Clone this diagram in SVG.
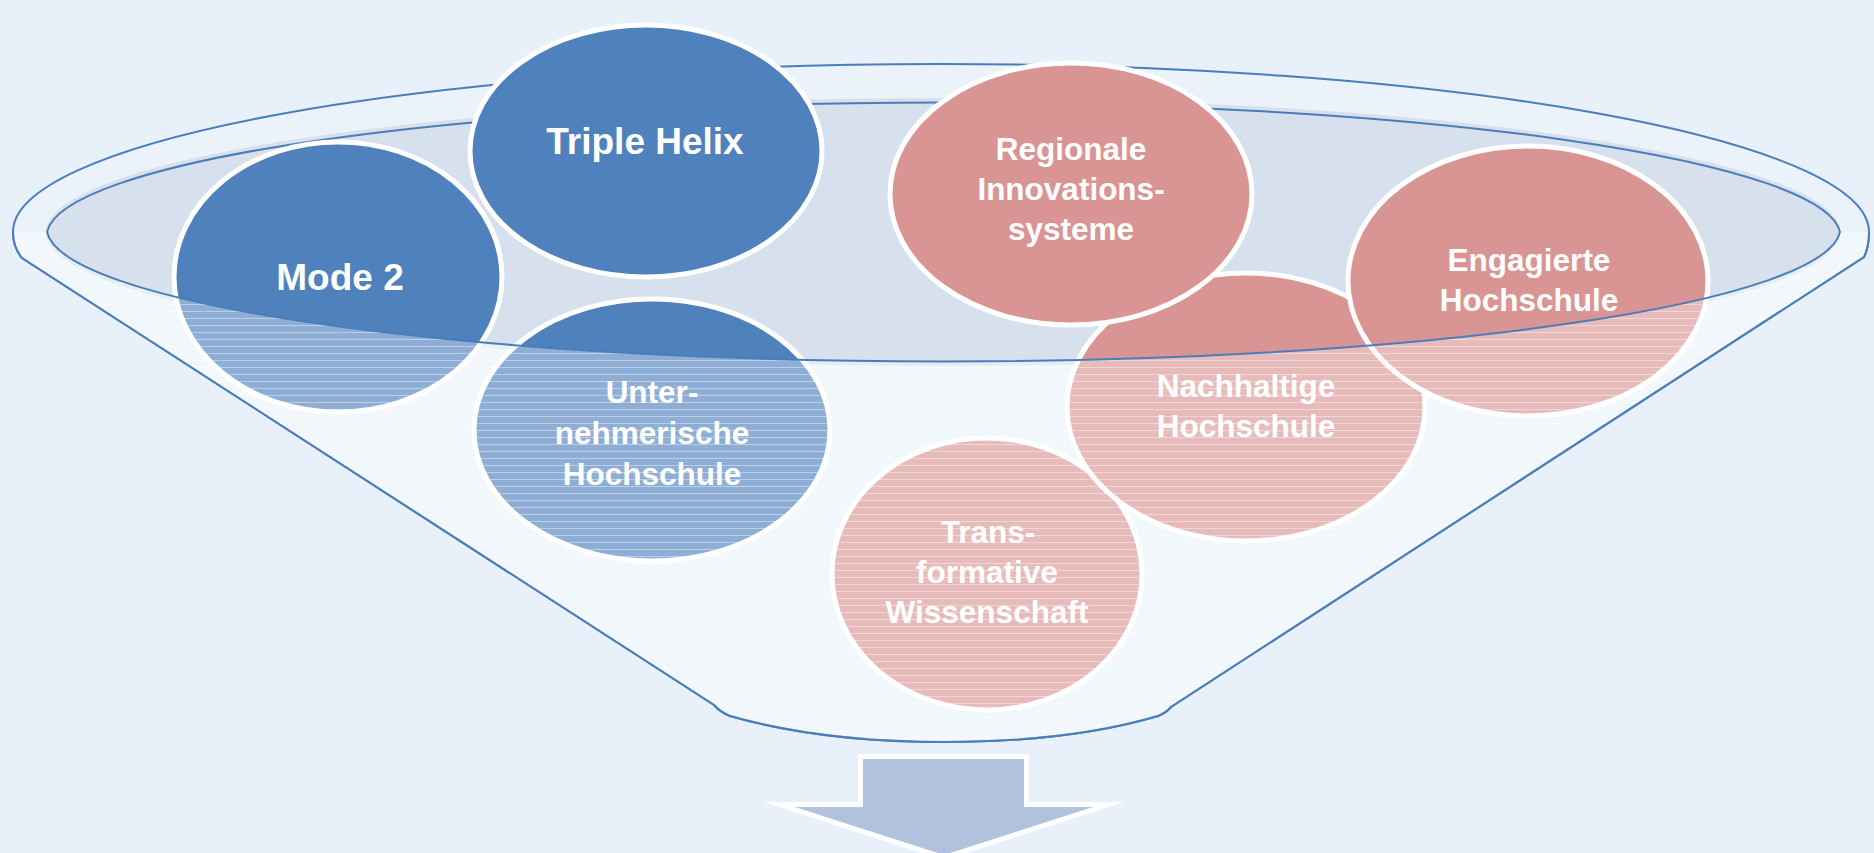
<svg xmlns="http://www.w3.org/2000/svg" width="1874" height="853" viewBox="0 0 1874 853">
  <defs>
    <style>
      .edge { fill: none; stroke: #4a7ebb; stroke-width: 2; }
      .node { stroke: #ffffff; stroke-width: 5; }
      .blue { fill: #4f81bd; }
      .pink { fill: #d99594; }
      .label { font-family: "Liberation Sans", Arial, sans-serif; font-weight: bold; fill: #ffffff; text-anchor: middle; }
      .big { font-size: 37px; }
      .small { font-size: 31.5px; }
    </style>
    <!-- faint horizontal streaks of the glass front -->
    <pattern id="streaks" width="8" height="7" patternUnits="userSpaceOnUse">
      <rect x="0" y="3" width="8" height="1" fill="#ffffff" fill-opacity="0.4"/>
    </pattern>
    <!-- part of the funnel below the liquid surface -->
    <path id="front-glass" d="M 47 232 A 897 134 0 0 0 1840 232 L 1869 232 Q 1869 247 1864 257 L 1171 707 Q 1166 713 1158 716 C 1090 736 1010 742 944 742 C 878 742 800 736 730 716 Q 720 712 714 705 L 22 258 Q 13 247 13 232 Z"/>
  </defs>

  <rect x="0" y="0" width="1874" height="853" fill="#e8f0f9"/>

  <!-- funnel body, rim and liquid surface -->
  <g id="funnel-back">
    <path class="edge" style="fill:#ebf2f9" d="M 13 232 A 928 168 0 0 1 1869 232 Q 1869 247 1864 257 L 1171 707 Q 1166 713 1158 716 C 1090 736 1010 742 944 742 C 878 742 800 736 730 716 Q 720 712 714 705 L 22 258 Q 13 247 13 232 Z"/>
    <ellipse cx="943" cy="232" rx="897" ry="134" fill="#d7e1ee"/>
    <path class="edge" d="M 47 232 A 897 134 0 0 1 1840 232"/>
  </g>

  <g id="node-transformative">
    <ellipse class="node pink" cx="987" cy="574" rx="155" ry="136"/>
    <text class="label small" x="988" y="543">Trans-</text>
    <text class="label small" x="987" y="583">formative</text>
    <text class="label small" x="987" y="623">Wissenschaft</text>
  </g>

  <g id="node-nachhaltige">
    <ellipse class="node pink" cx="1246" cy="407" rx="179" ry="134"/>
    <text class="label small" x="1246" y="397">Nachhaltige</text>
    <text class="label small" x="1246" y="437">Hochschule</text>
  </g>

  <g id="node-regionale">
    <ellipse class="node pink" cx="1071" cy="194" rx="181" ry="131"/>
    <text class="label small" x="1071" y="160">Regionale</text>
    <text class="label small" x="1071" y="200">Innovations-</text>
    <text class="label small" x="1071" y="240">systeme</text>
  </g>

  <g id="node-engagierte">
    <ellipse class="node pink" cx="1528" cy="281" rx="180" ry="135"/>
    <text class="label small" x="1529" y="271">Engagierte</text>
    <text class="label small" x="1529" y="311">Hochschule</text>
  </g>

  <g id="node-mode2">
    <ellipse class="node blue" cx="338" cy="277" rx="164" ry="135"/>
    <text class="label big" x="340" y="290">Mode 2</text>
  </g>

  <g id="node-triple-helix">
    <ellipse class="node blue" cx="646" cy="151" rx="176" ry="126"/>
    <text class="label big" x="645" y="154">Triple Helix</text>
  </g>

  <g id="node-unternehmerische">
    <ellipse class="node blue" cx="652" cy="430" rx="178" ry="131"/>
    <text class="label small" x="652" y="403">Unter-</text>
    <text class="label small" x="652" y="444">nehmerische</text>
    <text class="label small" x="652" y="485">Hochschule</text>
  </g>

  <!-- front glass of the funnel, over the lower halves -->
  <g id="funnel-front">
    <use href="#front-glass" fill="#ffffff" fill-opacity="0.36"/>
    <use href="#front-glass" fill="url(#streaks)"/>
    <path class="edge" d="M 47 232 A 897 134 0 0 0 1840 232"/>
    <path class="edge" d="M 1869 232 Q 1869 247 1864 257 L 1171 707 Q 1166 713 1158 716 C 1090 736 1010 742 944 742 C 878 742 800 736 730 716 Q 720 712 714 705 L 22 258 Q 13 247 13 232"/>
  </g>

  <g id="connectors">
    <polygon points="863,759 1024,759 1024,807 1093,807 944,855 795,807 863,807" fill="#b0c2dd" stroke="#ffffff" stroke-width="10" stroke-miterlimit="12" paint-order="stroke"/>
  </g>
</svg>
